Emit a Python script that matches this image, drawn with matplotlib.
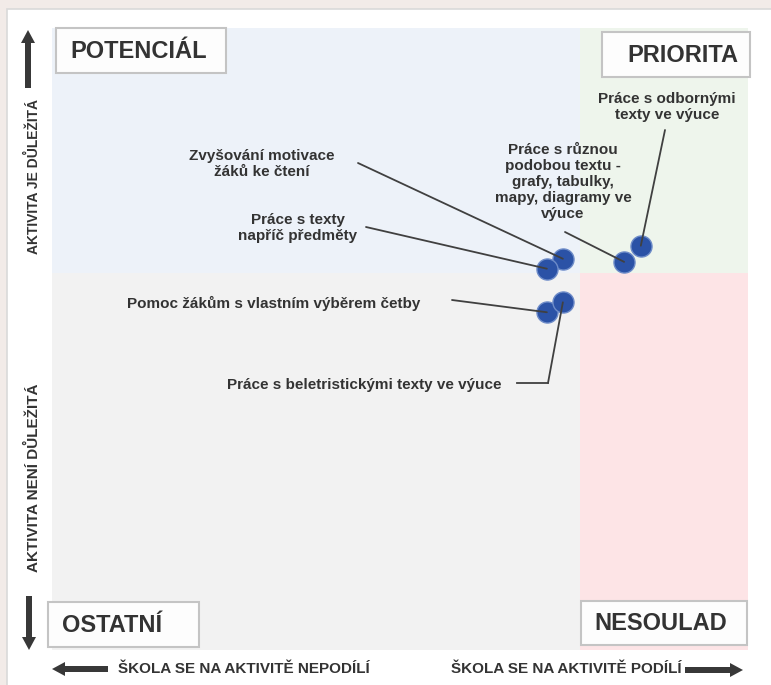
import matplotlib
matplotlib.use('Agg')
import matplotlib.pyplot as plt
from matplotlib.patches import Rectangle, FancyArrow

plt.rcParams['font.family'] = ['Liberation Sans', 'DejaVu Sans']

# ---------------- data ----------------
activities = [
    'Zvyšování motivace\nžáků ke čtení',
    'Práce s texty\nnapříč předměty',
    'Pomoc žákům s vlastním výběrem četby',
    'Práce s beletristickými texty ve výuce',
    'Práce s různou\npodobou textu -\ngrafy, tabulky,\nmapy, diagramy ve\nvýuce',
    'Práce s odbornými\ntexty ve výuce',
]
participation = [73.4, 71.1, 71.1, 73.4, 82.2, 84.6]   # x: škola se na aktivitě podílí
importance = [62.9, 61.3, 54.3, 55.9, 62.4, 65.0]      # y: aktivita je důležitá
x_split = 75.9
y_split = 60.6
quadrant_names = ['POTENCIÁL', 'PRIORITA', 'OSTATNÍ', 'NESOULAD']
y_axis_texts = ['AKTIVITA JE DŮLEŽITÁ', 'AKTIVITA NENÍ DŮLEŽITÁ']
x_axis_texts = ['ŠKOLA SE NA AKTIVITĚ NEPODÍLÍ', 'ŠKOLA SE NA AKTIVITĚ PODÍLÍ']

# ---------------- layout (pixels) ----------------
W, H = 771, 685
TXT = '#333333'
LINE = '#404040'
ARROW = '#383838'

fig = plt.figure(figsize=(W / 100, H / 100), dpi=100)
fig.patch.set_facecolor('#f2ebe8')

# background overlay (panel)
bg = fig.add_axes([0, 0, 1, 1], zorder=0)
bg.set_xlim(0, W); bg.set_ylim(H, 0); bg.axis('off')
bg.add_patch(Rectangle((7, 9), W, H, facecolor='white', edgecolor='#d9d9d9', lw=1.2))

# main plot axes
ax = fig.add_axes([52 / W, (H - 650) / H, 696 / W, 622 / H], zorder=1)
ax.set_xlim(0, 100); ax.set_ylim(0, 100); ax.axis('off')
ax.patch.set_alpha(0)

quad_colors = ['#edf2f9', '#eef5ec', '#f2f2f2', '#fde4e6']
ax.add_patch(Rectangle((0, y_split), x_split, 100 - y_split, facecolor=quad_colors[0], lw=0, zorder=0))
ax.add_patch(Rectangle((x_split, y_split), 100 - x_split, 100 - y_split, facecolor=quad_colors[1], lw=0, zorder=0))
ax.add_patch(Rectangle((0, 0), x_split, y_split, facecolor=quad_colors[2], lw=0, zorder=0))
ax.add_patch(Rectangle((x_split, 0), 100 - x_split, y_split, facecolor=quad_colors[3], lw=0, zorder=0))

ax.scatter(participation, importance, s=230, c='#2b52a6', edgecolors='#6d8bc8',
           linewidths=1.0, zorder=3)

# top overlay for labels/arrows
ov = fig.add_axes([0, 0, 1, 1], zorder=2)
ov.set_xlim(0, W); ov.set_ylim(H, 0); ov.axis('off')
ov.patch.set_alpha(0)

# annotation texts (pixel centers) and leader start points
text_pos = [(262, 164), (298, 228), (274, 303), (364, 385), (563, 182), (667, 107)]
line_start = [(358, 163), (366, 227), (452, 300), (548, 383), (565, 232), (665, 130)]
for lab, tp, ls, xv, yv in zip(activities, text_pos, line_start, participation, importance):
    ov.text(tp[0], tp[1], lab, ha='center', va='center', fontsize=11, weight='bold',
            color=TXT, linespacing=1.17)
    ax.annotate('', xy=(xv, yv), xycoords='data', xytext=ls, textcoords=ov.transData,
                arrowprops=dict(arrowstyle='-', color=LINE, lw=1.3, shrinkA=0, shrinkB=0),
                zorder=4, annotation_clip=False)
ov.plot([517, 548], [383, 383], color=LINE, lw=1.3)

# quadrant label boxes
boxes = [(56, 28, 170, 45, 'left', 70), (602, 32, 148, 45, 'right', 738),
         (48, 602, 151, 45, 'left', 62), (581, 601, 166, 44, 'right', 727)]
for name, (bx, by, bw, bh, ha, tx) in zip(quadrant_names, boxes):
    ov.add_patch(Rectangle((bx, by), bw, bh, facecolor='#fdfdfd', edgecolor='#c4c4c4', lw=1.5))
    ov.text(tx, by + bh / 2 + 1, name, ha=ha, va='center', fontsize=17, weight='bold', color=TXT)

# axis arrows
aw = dict(width=6, head_width=14, head_length=13, length_includes_head=True,
          color=ARROW, lw=0)
ov.add_patch(FancyArrow(28, 88, 0, -58, **aw))
ov.add_patch(FancyArrow(29, 596, 0, 54, **aw))
ov.add_patch(FancyArrow(108, 669, -56, 0, **aw))
ov.add_patch(FancyArrow(685, 670, 58, 0, **aw))

ov.text(33, 176, y_axis_texts[0], rotation=90, ha='center', va='center', fontsize=10,
        weight='bold', color=TXT)
ov.text(33, 478, y_axis_texts[1], rotation=90, ha='center', va='center', fontsize=11,
        weight='bold', color=TXT)
ov.text(118, 669, x_axis_texts[0], ha='left', va='center', fontsize=11, weight='bold', color=TXT)
ov.text(682, 669, x_axis_texts[1], ha='right', va='center', fontsize=11, weight='bold', color=TXT)

fig.savefig('out.png', dpi=100, facecolor=fig.get_facecolor())
